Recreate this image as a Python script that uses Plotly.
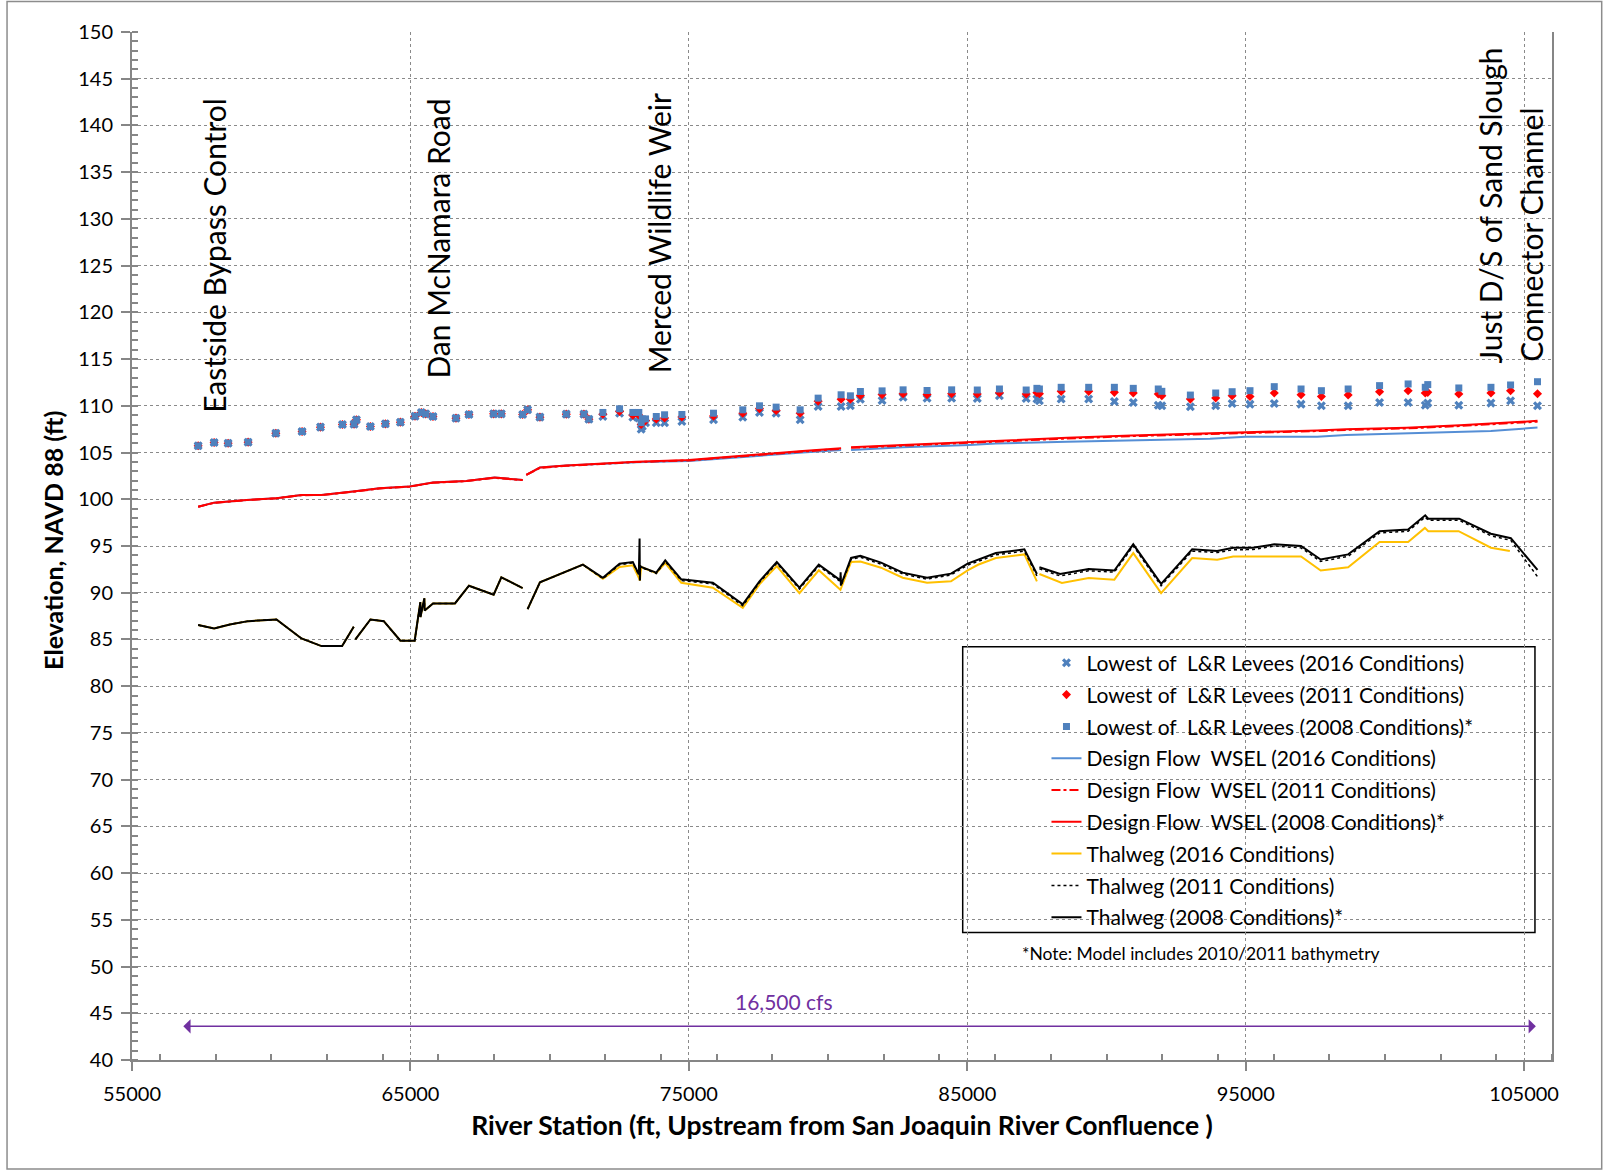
import plotly.graph_objects as go

# ---------------- DATA ----------------
# Lowest of L&R levees (river station ft, elevation ft)
levee_station = [57376, 57950, 58453, 59170, 60165, 61109, 61769, 62558, 62975, 63061,
                 63563, 64102, 64640, 65164, 65394, 65548, 65810, 66636, 67102, 67989,
                 68265, 69030, 69209, 69651, 70598, 71230, 71410,
                 71912, 72511, 72988, 73203, 73287, 73330, 73444, 73830, 74128, 74749,
                 75886, 76937, 77536, 78135, 78997, 79643, 80468, 80802, 81161, 81940,
                 82694, 83555, 84438,
                 85359, 86154, 87115, 87500, 87590, 88372, 89360, 90282, 90961, 91859,
                 91987, 93012, 93922, 94512, 95153, 96025, 96987, 97718, 98679, 99807,
                 100833, 101448, 101538, 102653, 103807, 104512, 105479]
levee_2016 = [105.72, 106.07, 106.0, 106.11, 107.07, 107.25, 107.72, 108.0, 108.04, 108.5,
              107.79, 108.07, 108.25, 108.89, 109.29, 109.14, 108.86, 108.68, 109.07, 109.14,
              109.14, 109.07, 109.57, 108.79, 109.11, 109.11, 108.57,
              108.86, 109.21, 108.79, 108.7, 107.5, 107.8, 108.2, 108.2, 108.2, 108.32,
              108.5, 108.79, 109.29, 109.21, 108.5, 109.93, 109.93, 110.0, 110.71, 110.57,
              110.93, 110.82, 110.82,
              110.79, 111.08, 110.79, 110.72, 110.54, 110.72, 110.72, 110.47, 110.36, 110.07,
              110.0, 109.89, 110.0, 110.25, 110.18, 110.25, 110.18, 110.0, 110.0, 110.36,
              110.36, 110.07, 110.29, 110.07, 110.29, 110.54, 110.0]
levee_2011 = [105.72, 106.07, 106.0, 106.11, 107.07, 107.25, 107.72, 108.0, 108.04, 108.5,
              107.79, 108.07, 108.25, 108.89, 109.29, 109.14, 108.86, 108.68, 109.07, 109.14,
              109.14, 109.07, 109.57, 108.79, 109.11, 109.11, 108.57,
              109.1, 109.4, 109.0, 109.0, 108.0, 108.3, 108.4, 108.6, 108.7, 108.8,
              108.9, 109.2, 109.7, 109.5, 109.2, 110.5, 110.7, 110.7, 111.1, 111.2,
              111.3, 111.2, 111.3,
              111.26, 111.4, 111.26, 111.4, 111.3, 111.55, 111.55, 111.44, 111.37, 111.26,
              111.08, 110.72, 110.83, 111.08, 111.0, 111.37, 111.19, 111.0, 111.15, 111.51,
              111.62, 111.37, 111.44, 111.26, 111.37, 111.62, 111.29]
levee_2008 = [105.72, 106.07, 106.0, 106.11, 107.07, 107.25, 107.72, 108.0, 108.04, 108.5,
              107.79, 108.07, 108.25, 108.89, 109.29, 109.14, 108.86, 108.68, 109.07, 109.14,
              109.14, 109.07, 109.57, 108.79, 109.11, 109.11, 108.57,
              109.29, 109.68, 109.29, 109.29, 108.2, 108.6, 108.6, 108.86, 109.04, 109.07,
              109.21, 109.57, 110.0, 109.86, 109.57, 110.82, 111.18, 111.07, 111.53, 111.6,
              111.71, 111.64, 111.71,
              111.69, 111.8, 111.69, 111.87, 111.8, 111.98, 111.98, 111.98, 111.87, 111.8,
              111.55, 111.15, 111.37, 111.51, 111.62, 112.05, 111.8, 111.62, 111.8, 112.16,
              112.34, 111.98, 112.27, 111.91, 111.98, 112.23, 112.58]

# Design flow WSEL (None = break in line)
wsel_station = [57376, 57950, 59110, 60189, 61086, 61805, 62940, 63897, 64973, 65810,
                67007, 68024, 69030, None, 69161, 69651, 70598, 71794, 73108, 74998,
                76697, 77895, 79088, 80468, None, 80826, 82680, 85072, 86026, 88590,
                90897, 93718, 95000, 97564, 98600, 100769, 102692, 103804, 105479]
wsel_2016 = [99.21, 99.64, 99.93, 100.11, 100.46, 100.46, 100.82, 101.18, 101.36, 101.79,
             101.96, 102.32, 102.07, None, 102.61, 103.39, 103.61, 103.79, 103.95, 104.1,
             104.5, 104.74, 105.0, 105.28, None, 105.28, 105.56, 105.81, 105.97, 106.15,
             106.33, 106.47, 106.69, 106.69, 106.87, 107.05, 107.2, 107.31, 107.67]
wsel_2011 = [99.2, 99.62, 99.91, 100.1, 100.44, 100.45, 100.8, 101.16, 101.35, 101.77,
             101.94, 102.3, 102.05, None, 102.6, 103.36, 103.58, 103.76, 103.98, 104.16,
             104.58, 104.84, 105.1, 105.4, None, 105.5, 105.75, 106.1, 106.22, 106.5,
             106.76, 106.98, 107.05, 107.3, 107.42, 107.58, 107.84, 108.02, 108.3]
wsel_2008 = [99.21, 99.64, 99.93, 100.11, 100.46, 100.46, 100.82, 101.18, 101.36, 101.79,
             101.96, 102.32, 102.07, None, 102.61, 103.39, 103.61, 103.79, 104.02, 104.2,
             104.63, 104.9, 105.17, 105.46, None, 105.56, 105.81, 106.17, 106.29, 106.58,
             106.83, 107.05, 107.12, 107.37, 107.5, 107.66, 107.91, 108.1, 108.39]

# Thalweg (None = break in line)
thalweg_station = [57376, 57950, 58513, 59170, 60189, 61086, 61805, 62546, 62964, None,
                   63024, 63563, 64042, 64640, 65152, 65340, 65357, 65360, 65500, 65512,
                   65811, 66600, 67102, 67989, 68265, 69030, None,
                   69209, 69651, 71195, 71912, 72511, 72988, 73203, 73230, 73240, 73250,
                   73287, 73830, 74152, 74726, 75862, 76937, 77536, 78158, 78972, 79666,
                   80444, 80450, 80460, 80826, 81161, 81902, 82680, 83555, 84414, 85012,
                   85385, 86026, 87051, 87500, None,
                   87590, 88333, 89359, 90282, 90961, 91961, 93077, 93974, 94551, 95256,
                   96025, 96987, 97692, 98679, 99807, 100833, 101447, 101555, 102667,
                   103804, 104522, 105479]
thalweg_2008 = [86.54, 86.18, 86.61, 86.96, 87.14, 85.11, 84.29, 84.29, 86.36, None,
                85.0, 87.14, 86.96, 84.86, 84.86, 88.6, 89.0, 87.4, 89.4, 88.1,
                88.86, 88.86, 90.75, 89.79, 91.64, 90.5, None,
                88.25, 91.11, 93.0, 91.6, 93.11, 93.29, 91.97, 95.8, 91.3, 92.9,
                92.75, 92.15, 93.47, 91.43, 91.07, 88.75, 91.22, 93.29, 90.54, 93.0,
                91.32, 92.2, 90.8, 93.72, 93.94, 93.22, 92.15, 91.61, 92.04, 93.11,
                93.53, 94.24, 94.64, 92.0, None,
                92.73, 92.0, 92.55, 92.37, 95.18, 90.94, 94.64, 94.46, 94.82, 94.82,
                95.18, 95.0, 93.56, 94.1, 96.58, 96.76, 98.28, 97.92, 97.92,
                96.31, 95.84, 92.44]
thalweg_2011 = [86.54, 86.18, 86.61, 86.96, 87.14, 85.11, 84.29, 84.29, 86.36, None,
                85.0, 87.14, 86.96, 84.86, 84.86, 88.6, 89.0, 87.4, 89.4, 88.1,
                88.86, 88.86, 90.75, 89.79, 91.64, 90.5, None,
                88.25, 91.11, 93.0, 91.5, 93.0, 93.2, 91.9, 92.6, 91.3, 92.8,
                92.7, 92.05, 93.35, 91.3, 90.95, 88.6, 91.1, 93.15, 90.4, 92.85,
                91.2, 91.9, 90.7, 93.55, 93.8, 93.05, 92.0, 91.45, 91.9, 92.95,
                93.35, 94.05, 94.45, 91.8, None,
                92.55, 91.8, 92.35, 92.2, 95.0, 90.75, 94.45, 94.3, 94.6, 94.62,
                95.0, 94.8, 93.35, 93.9, 96.4, 96.58, 98.1, 97.75, 97.75,
                96.1, 95.6, 91.72]
thalweg16_station = [57376, 57950, 58513, 59170, 60189, 61086, 61805, 62546, 62964, None,
                     63024, 63563, 64042, 64640, 65152, 65340, 65357, 65360, 65500, 65512,
                     65811, 66600, 67102, 67989, 68265, 69030, None,
                     69209, 69651, 71195, 71912, 72511, 72988, 73203, 73240,
                     73287, 73830, 74152, 74726, 75862, 76937, 77536, 78158, 78972, 79666,
                     80444, 80826, 81161, 81902, 82680, 83555, 84414, 85012,
                     85385, 86026, 87051, 87500, None,
                     87590, 88397, 89359, 90282, 90961, 91961, 93077, 93974, 94551,
                     96987, 97692, 98679, 99807, 100833, 101435, 101555, 102647,
                     103807, 104486]
thalweg_2016 = [86.54, 86.18, 86.61, 86.96, 87.14, 85.11, 84.29, 84.29, 86.36, None,
                85.0, 87.14, 86.96, 84.86, 84.86, 88.6, 89.0, 87.4, 89.4, 88.1,
                88.86, 88.86, 90.75, 89.79, 91.64, 90.5, None,
                88.25, 91.11, 93.0, 91.5, 92.75, 92.93, 91.6, 91.3,
                92.75, 92.1, 93.18, 91.07, 90.54, 88.39, 90.9, 92.86, 89.96, 92.4,
                90.32, 93.29, 93.35, 92.68, 91.61, 91.07, 91.22, 92.4,
                92.99, 93.71, 94.1, 91.22, None,
                92.0, 91.04, 91.58, 91.4, 94.24, 89.96, 93.71, 93.53, 93.88,
                93.88, 92.37, 92.73, 95.43, 95.43, 96.94, 96.58, 96.58,
                94.82, 94.46]

# Location labels
label_text = ["Eastside Bypass Control", "Dan McNamara Road", "Merced Wildlife Weir",
              "Just D/S of Sand Slough", "Connector Channel"]
label_station = [57950, 65990, 73940, 103770, 105243]
label_base_elev = [109.0, 112.7, 113.3, 114.3, 114.5]

# Flow range arrow
flow_text = "16,500 cfs"
arrow_start_station = 56790
arrow_end_station = 105420
arrow_elev = 43.6
flow_label_station = 78430
flow_label_elev = 46.3

# ---------------- FIGURE ----------------
BLUE_MK = "#4F81BD"
BLUE_LN = "#558ED5"
RED = "#FF0000"
YELLOW = "#FFC000"
PURPLE = "#7030A0"
AXIS = "#868686"
GRID = "#8a8a8a"
LFONT = "Lato"

fig = go.Figure()

traces = [
    dict(x=levee_station, y=levee_2016, mode="markers",
         name="Lowest of  L&R Levees (2016 Conditions)",
         marker=dict(symbol="x", size=8, color=BLUE_MK, line=dict(width=0))),
    dict(x=levee_station, y=levee_2011, mode="markers",
         name="Lowest of  L&R Levees (2011 Conditions)",
         marker=dict(symbol="diamond", size=7, color=RED)),
    dict(x=levee_station, y=levee_2008, mode="markers",
         name="Lowest of  L&R Levees (2008 Conditions)*",
         marker=dict(symbol="square", size=7, color=BLUE_MK)),
    dict(x=wsel_station, y=wsel_2016, mode="lines",
         name="Design Flow  WSEL (2016 Conditions)",
         line=dict(color=BLUE_LN, width=2)),
    dict(x=wsel_station, y=wsel_2011, mode="lines",
         name="Design Flow  WSEL (2011 Conditions)",
         line=dict(color=RED, width=2, dash="dashdot")),
    dict(x=wsel_station, y=wsel_2008, mode="lines",
         name="Design Flow  WSEL (2008 Conditions)*",
         line=dict(color=RED, width=2)),
    dict(x=thalweg16_station, y=thalweg_2016, mode="lines",
         name="Thalweg (2016 Conditions)",
         line=dict(color=YELLOW, width=2)),
    dict(x=thalweg_station, y=thalweg_2011, mode="lines",
         name="Thalweg (2011 Conditions)",
         line=dict(color="black", width=1.5, dash="dot")),
    dict(x=thalweg_station, y=thalweg_2008, mode="lines",
         name="Thalweg (2008 Conditions)*",
         line=dict(color="black", width=2)),
]
for i, t in enumerate(traces):
    fig.add_trace(go.Scatter(legendgroup=f"g{i}", **t))

annotations = []
for txt, st, el in zip(label_text, label_station, label_base_elev):
    annotations.append(dict(x=st, y=el, xref="x", yref="y", text=txt, showarrow=False,
                            textangle=-90, xanchor="center", yanchor="bottom",
                            font=dict(family=LFONT, size=30, color="black")))
annotations.append(dict(x=arrow_end_station, y=arrow_elev, ax=arrow_start_station, ay=arrow_elev,
                        xref="x", yref="y", axref="x", ayref="y", text="", showarrow=True,
                        arrowside="end+start", arrowhead=1, arrowsize=1.6, arrowwidth=1.5,
                        arrowcolor=PURPLE))
annotations.append(dict(x=flow_label_station, y=flow_label_elev, xref="x", yref="y",
                        text=flow_text, showarrow=False,
                        font=dict(family=LFONT, size=21, color=PURPLE)))
annotations.append(dict(x=0.625, y=0.104, xref="paper", yref="paper", xanchor="left",
                        yanchor="middle", showarrow=False,
                        text="*Note: Model includes 2010/2011 bathymetry",
                        font=dict(family=LFONT, size=17.5, color="black")))
# y-axis title placed as an annotation for exact positioning
annotations.append(dict(x=-0.0556, y=0.505, xref="paper", yref="paper", xanchor="center",
                        yanchor="middle", showarrow=False, textangle=-90,
                        text="<b>Elevation, NAVD 88 (ft)</b>",
                        font=dict(family=LFONT, size=25, color="black")))

shapes = [
    dict(type="rect", xref="paper", yref="paper", x0=0.585, x1=0.988, y0=0.124, y1=0.402,
         line=dict(color="black", width=1.5), fillcolor="white", layer="below"),
    dict(type="rect", xref="paper", yref="paper", x0=-0.088, x1=1.035, y0=-0.106, y1=1.0296,
         line=dict(color="#8c8c8c", width=1.5), fillcolor="rgba(0,0,0,0)"),
]

axis_common = dict(showline=True, linecolor=AXIS, linewidth=2, showgrid=True,
                   gridcolor=GRID, griddash="dot", gridwidth=1, zeroline=False,
                   ticks="outside", ticklen=9, tickwidth=1.5, tickcolor=AXIS,
                   tickfont=dict(family=LFONT, size=20, color="black"))

fig.update_layout(
    width=1604, height=1172,
    margin=dict(l=132, r=52, t=32, b=112),
    paper_bgcolor="white", plot_bgcolor="white",
    showlegend=True,
    legend=dict(x=0.644, y=0.406, xanchor="left", yanchor="top",
                bgcolor="rgba(0,0,0,0)", borderwidth=0,
                font=dict(family=LFONT, size=21, color="black"),
                itemwidth=30, tracegroupgap=1.5),
    annotations=annotations,
    shapes=shapes,
    xaxis=dict(range=[55000, 106000], tick0=55000, dtick=10000, tickformat="d",
               minor=dict(dtick=2000, ticks="inside", ticklen=6, tickcolor=AXIS, showgrid=False),
               title=dict(text="<b>River Station (ft, Upstream from San Joaquin River Confluence )</b>",
                          font=dict(family=LFONT, size=26.5, color="black"), standoff=12),
               ticklabelstandoff=6,
               **axis_common),
    yaxis=dict(range=[40, 150], tick0=40, dtick=5, mirror=True,
               minor=dict(dtick=1, ticks="inside", ticklen=6, tickcolor=AXIS, showgrid=False),
               ticklabelstandoff=4,
               **axis_common),
)

fig.write_html("out.html")
